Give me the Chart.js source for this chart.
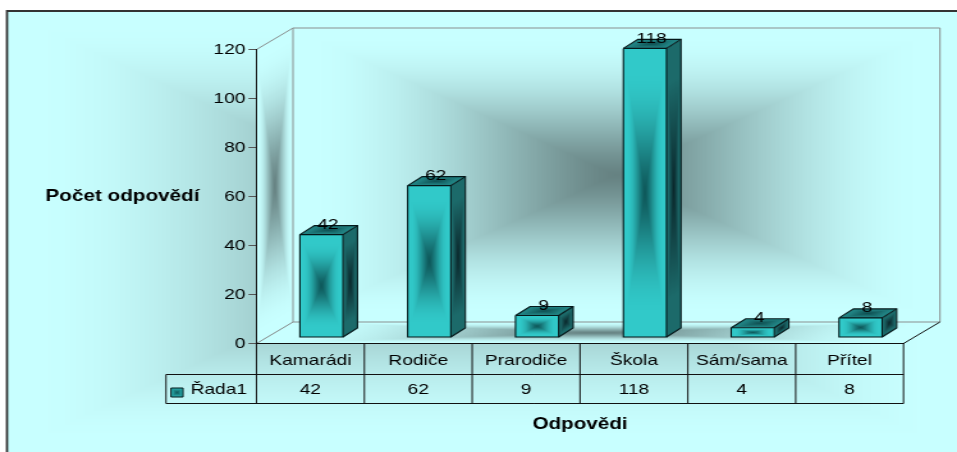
<!DOCTYPE html>
<html lang="cs">
<head>
<meta charset="utf-8">
<title>Počet odpovědí</title>
<script src="https://cdn.jsdelivr.net/npm/chart.js@4/dist/chart.umd.min.js"></script>
<style>
html,body{margin:0;padding:0;background:#fff;overflow:hidden}
#c{position:absolute;left:0;top:0;display:block;width:957px!important;height:452px!important}
</style>
</head>
<body>
<canvas id="c" width="748" height="452"></canvas>
<script>
const categories = ['Kamarádi', 'Rodiče', 'Prarodiče', 'Škola', 'Sám/sama', 'Přítel'];
const seriesName = 'Řada1';
const values = [42, 62, 9, 118, 4, 8];
const yMin = 0, yMax = 120, yStep = 20;
const yTitle = 'Počet odpovědí';
const xTitle = 'Odpovědi';

const SX = 957 / 748;
const FONT = '"Liberation Sans", Arial, sans-serif';
const X = v => v / SX;
const P = (x, y) => [x / SX, y];

const NEUTRAL = {t0: .96, edge: [200,255,255], mid: [102,130,130], soft: true};
const FACE = {t0: .85, edge: [49,201,201], mid: [14,88,90], soft: true};
const SIDE = {t0: .75, edge: [28,106,106], mid: [10,38,42]};
const TOP = {t0: .8, edge: [32,130,130], mid: [14,78,80]};
const KEY = {t0: .8, edge: [40,170,170], mid: [14,88,90]};

function pathImage(w, h, r) {
  w = Math.max(2, Math.round(w)); h = Math.max(2, Math.round(h));
  const cv = document.createElement('canvas');
  cv.width = w; cv.height = h;
  const g = cv.getContext('2d');
  const im = g.createImageData(w, h);
  for (let j = 0; j < h; j++) for (let i = 0; i < w; i++) {
    const t = Math.max(Math.abs((i + .5) / w - .5), Math.abs((j + .5) / h - .5)) * 2;
    let f = Math.min(t / r.t0, 1);
    if (r.soft) f = Math.pow(Math.sin(f * Math.PI / 2), 1.3);
    const k = (i + j * w) * 4;
    for (let c = 0; c < 3; c++) im.data[k + c] = r.mid[c] + (r.edge[c] - r.mid[c]) * f;
    im.data[k + 3] = 255;
  }
  g.putImageData(im, 0, 0);
  return cv;
}
// paint a path gradient into the parallelogram a-b-(b+d-a)-d
function para(ctx, a, b, d, r, wPx, hPx) {
  const cv = pathImage(wPx, hPx, r);
  ctx.save();
  ctx.beginPath();
  ctx.moveTo(a[0], a[1]); ctx.lineTo(b[0], b[1]);
  ctx.lineTo(b[0] + d[0] - a[0], b[1] + d[1] - a[1]); ctx.lineTo(d[0], d[1]);
  ctx.closePath(); ctx.clip();
  ctx.transform((b[0]-a[0])/cv.width, (b[1]-a[1])/cv.width, (d[0]-a[0])/cv.height, (d[1]-a[1])/cv.height, a[0], a[1]);
  ctx.drawImage(cv, 0, 0);
  ctx.restore();
}
function poly(ctx, pts, color, lw) {
  ctx.save();
  ctx.strokeStyle = color; ctx.lineWidth = lw || 1;
  ctx.beginPath();
  pts.forEach((p, i) => i ? ctx.lineTo(p[0], p[1]) : ctx.moveTo(p[0], p[1]));
  ctx.stroke();
  ctx.restore();
}
function label(ctx, s, x, y, font, align) {
  ctx.save();
  ctx.font = font; ctx.fillStyle = '#000';
  ctx.textAlign = align || 'center'; ctx.textBaseline = 'middle';
  ctx.fillText(s, x, y);
  ctx.restore();
}

const BAR_SHIFT = [11, -6];
const BAR_DEPTH = [14.5, -9];
const WALL_DEPTH = [36.5, -21.5];

const scene = {
  id: 'scene',
  beforeDraw(chart) {
    const ctx = chart.ctx, a = chart.chartArea;
    const L = a.left * SX, R = a.right * SX, T = a.top, B = a.bottom;
    const dx = WALL_DEPTH[0], dy = WALL_DEPTH[1];
    // chart background (extends past the window on the right and bottom)
    para(ctx, P(7, 11), P(957, 11), P(7, 452), NEUTRAL, 950, 441);
    poly(ctx, [P(957, 11), P(7, 11), P(7, 452)], '#333', 1.8);
    // walls
    para(ctx, P(L + dx, T + dy), P(R + dx, T + dy), P(L + dx, B + dy), NEUTRAL, R - L, B - T);
    para(ctx, P(L, T), P(L + dx, T + dy), P(L, B), NEUTRAL, dx, B - T);
    para(ctx, P(L + dx, B + dy), P(R + dx, B + dy), P(L, B), NEUTRAL, R - L, -dy);
    const g = '#8a8f8f';
    poly(ctx, [P(L, T), P(L + dx, T + dy), P(R + dx, T + dy), P(R + dx, B + dy), P(L + dx, B + dy), P(L, B)], g, 1);
    poly(ctx, [P(L + dx, T + dy), P(L + dx, B + dy)], g, 1);
    poly(ctx, [P(R, B), P(R + dx, B + dy)], '#111', 1);
  },
  beforeDatasetDraw(chart) {
    chart.ctx.save();
    chart.ctx.translate(X(BAR_SHIFT[0]), BAR_SHIFT[1]);
  },
  afterDatasetDraw(chart, args) {
    const ctx = chart.ctx;
    const d = [X(BAR_DEPTH[0]), BAR_DEPTH[1]];
    args.meta.data.forEach((el, i) => {
      const l = el.x - el.width / 2, r = el.x + el.width / 2, t = el.y, b = el.base;
      para(ctx, [l, t], [r, t], [l, b], FACE, el.width * SX, b - t);
      para(ctx, [r, t], [r + d[0], t + d[1]], [r, b], SIDE, BAR_DEPTH[0], b - t);
      para(ctx, [l + d[0], t + d[1]], [r + d[0], t + d[1]], [l, t], TOP, el.width * SX, -d[1]);
      const lw = 1.1, k = '#04181a';
      poly(ctx, [[l, t], [r, t], [r, b], [l, b], [l, t]], k, lw);
      poly(ctx, [[l, t], [l + d[0], t + d[1]], [r + d[0], t + d[1]], [r + d[0], b + d[1]], [r, b]], k, lw);
      poly(ctx, [[r, t], [r + d[0], t + d[1]]], k, lw);
    });
    ctx.restore();
    ctx.save();
    args.meta.data.forEach((el, i) => {
      label(ctx, String(values[i]), el.x + X(BAR_SHIFT[0]) + X(6.5), el.y + BAR_SHIFT[1] - 10, '15px ' + FONT);
    });
    ctx.restore();
  },
  afterDraw(chart) {
    const ctx = chart.ctx, xs = chart.scales.x, a = chart.chartArea;
    const rowA = a.bottom, rowB = 374.5, rowC = 403.5;
    const step = xs.getPixelForTick(1) - xs.getPixelForTick(0);
    const k = '#111';
    poly(ctx, [[X(166), rowB], [a.right, rowB]], k, 1);
    poly(ctx, [[X(166), rowC], [a.right, rowC]], k, 1);
    poly(ctx, [[X(166), rowB], [X(166), rowC]], k, 1);
    poly(ctx, [[a.left, rowA], [a.left, rowC]], k, 1);
    categories.forEach((c, i) => {
      const cx = xs.getPixelForTick(i);
      poly(ctx, [[cx + step / 2, rowA], [cx + step / 2, rowC]], k, 1);
      label(ctx, String(values[i]), cx, 390, '15px ' + FONT);
    });
    // series key in the data table
    const kx = X(171), kw = X(12), ky = 388, kh = 9;
    para(ctx, [kx, ky], [kx + kw, ky], [kx, ky + kh], KEY, 12, 9);
    poly(ctx, [[kx, ky], [kx + kw, ky], [kx + kw, ky + kh], [kx, ky + kh], [kx, ky]], '#04181a', 1);
    label(ctx, seriesName, X(190.5), 390, '15px ' + FONT, 'left');
    // horizontal value-axis title
    label(ctx, yTitle, X(122.5), 197, 'bold 16.2px ' + FONT);
  }
};

new Chart(document.getElementById('c'), {
  type: 'bar',
  plugins: [scene],
  data: {
    labels: categories,
    datasets: [{
      label: seriesName,
      data: values,
      backgroundColor: '#31c9c9',
      borderWidth: 0,
      categoryPercentage: 1,
      barPercentage: 0.4,
      clip: false
    }]
  },
  options: {
    responsive: false,
    maintainAspectRatio: false,
    animation: false,
    devicePixelRatio: 1,
    layout: {padding: {left: 0, right: X(957 - 903.5), top: 49.5, bottom: 0}},
    plugins: {legend: {display: false}, tooltip: {enabled: false}, title: {display: false}},
    scales: {
      x: {
        type: 'category',
        afterFit(s) { s.height = 452 - 343.5; },
        border: {color: '#111', width: 1},
        grid: {display: false, drawTicks: false},
        ticks: {color: '#000', font: {family: FONT, size: 15}, padding: 8, maxRotation: 0, autoSkip: false},
        title: {display: true, text: xTitle, color: '#000', font: {family: FONT, size: 16.1, weight: 'bold'}, padding: {top: 0, bottom: 18}}
      },
      y: {
        type: 'linear',
        min: yMin,
        max: yMax,
        afterFit(s) { s.width = X(256.5); },
        border: {color: '#111', width: 1},
        grid: {drawOnChartArea: false, drawTicks: true, tickLength: X(8), color: '#555'},
        ticks: {stepSize: yStep, color: '#000', font: {family: FONT, size: 15}, padding: X(3)}
      }
    }
  }
});
</script>
</body>
</html>
